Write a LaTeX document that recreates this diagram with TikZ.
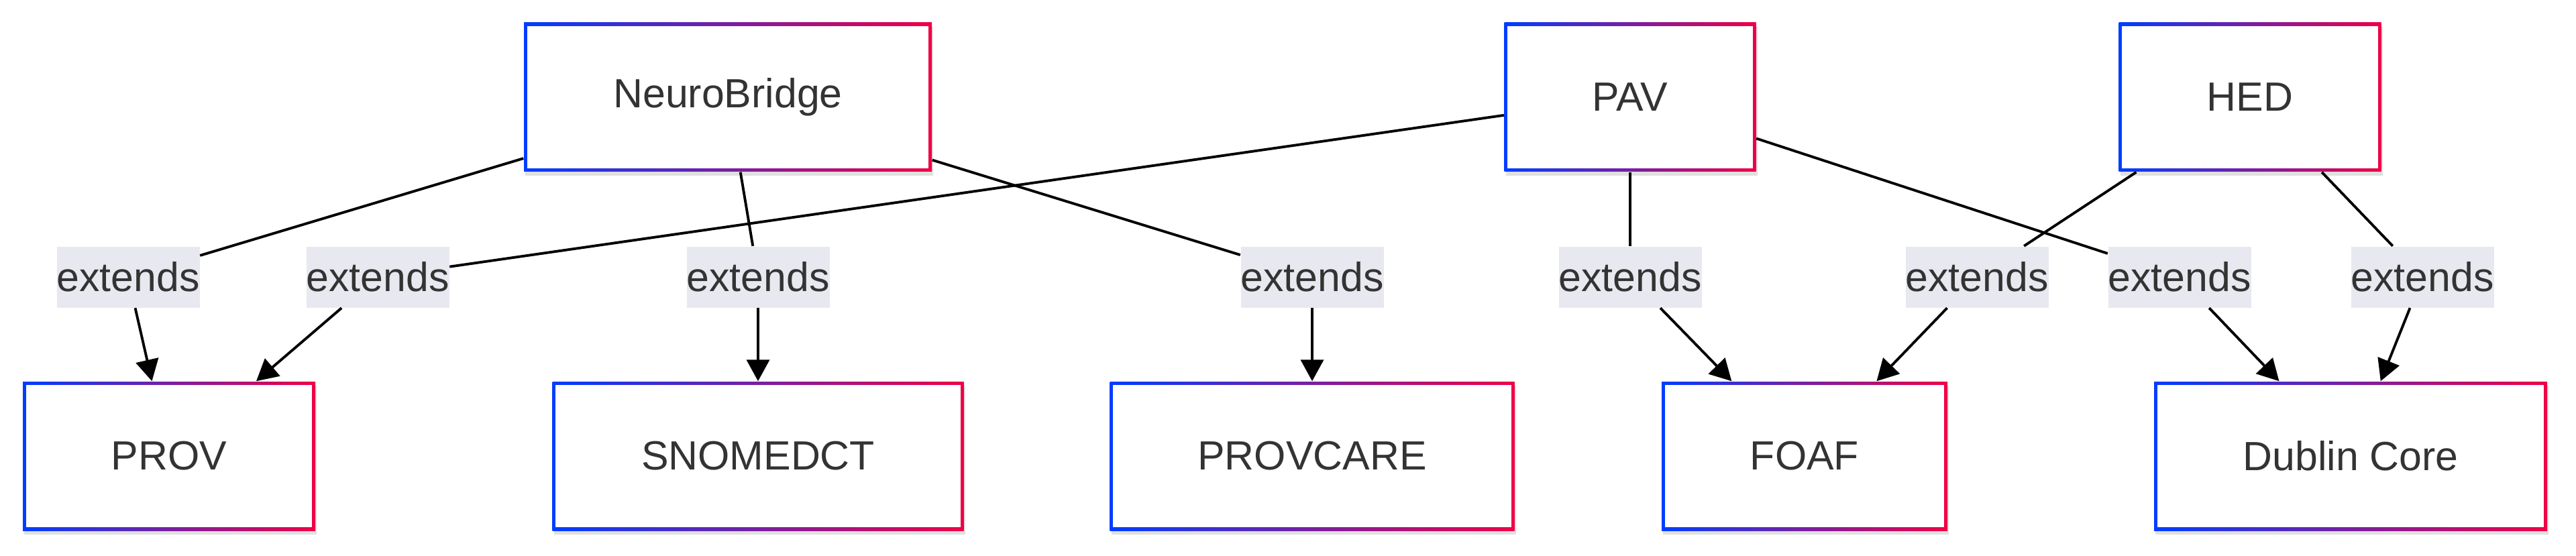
\documentclass[tikz,border=0pt]{standalone}
\usepackage{fontspec}
\setmainfont{Liberation Sans}
\usetikzlibrary{arrows.meta, calc, shadows}

\definecolor{boxblue}{RGB}{0,61,255}
\definecolor{boxred}{RGB}{240,0,70}
\definecolor{lblgray}{RGB}{232,232,240}
\definecolor{txtgray}{RGB}{51,51,51}

\begin{document}
\begin{tikzpicture}[
  every node/.style={font=\fontsize{17.3}{20}\selectfont, text=txtgray},
  ontobox/.style={rectangle, minimum height=2.22cm, inner sep=0pt,
    left color=boxblue, right color=boxred,
    drop shadow={shadow xshift=0.02cm, shadow yshift=-0.06cm, opacity=0.12, fill=black},
    path picture={\fill[white] ($(path picture bounding box.south west)+(1.3pt,1.3pt)$)
      rectangle ($(path picture bounding box.north east)-(1.3pt,1.3pt)$);}},
  extlabel/.style={fill=lblgray, inner sep=0pt, minimum width=2.13cm, minimum height=0.91cm},
  extline/.style={line width=1.1pt, black},
  extarrow/.style={extline, -{Triangle[length=0.32cm, width=0.34cm]}}
]
\useasboundingbox (0,0) rectangle (38.4,8.28);

% Ontologies that extend others
\node[ontobox, minimum width=6.08cm] (neuro) at (10.85,6.83) {NeuroBridge};
\node[ontobox, minimum width=3.75cm] (pav) at (24.30,6.83) {PAV};
\node[ontobox, minimum width=3.91cm] (hed) at (33.54,6.83) {HED};

% Base ontologies
\node[ontobox, minimum width=4.36cm] (prov) at (2.52,1.48) {PROV};
\node[ontobox, minimum width=6.13cm] (snomed) at (11.30,1.48) {SNOMEDCT};
\node[ontobox, minimum width=6.03cm] (provcare) at (19.56,1.48) {PROVCARE};
\node[ontobox, minimum width=4.26cm] (foaf) at (26.90,1.48) {FOAF};
\node[ontobox, minimum width=5.86cm] (dublin) at (35.04,1.48) {Dublin Core};

% Edge labels
\foreach \nm/\xx in {ea/1.91, eb/5.63, ec/11.30, ed/19.56, ee/24.30, ef/29.47, eg/32.49, eh/36.11} {
  \node[extlabel] (\nm) at (\xx,4.15) {extends};
}

% Extends relations
\foreach \src/\lb/\dst in {neuro/ea/prov, pav/eb/prov, neuro/ec/snomed, neuro/ed/provcare,
    pav/ee/foaf, hed/ef/foaf, pav/eg/dublin, hed/eh/dublin} {
  \draw[extline] (\src) -- (\lb);
  \draw[extarrow] (\lb) -- (\dst);
}

\end{tikzpicture}
\end{document}
